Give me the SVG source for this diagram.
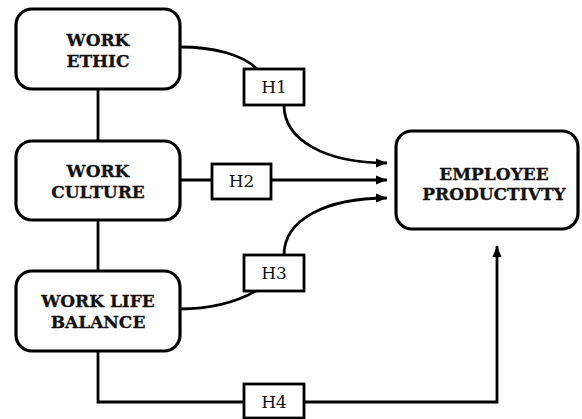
<svg xmlns="http://www.w3.org/2000/svg" width="582" height="419" viewBox="0 0 582 419">
<style>
.node{fill:#fff;stroke:#000;stroke-width:3.2}
.hbox{fill:#fff;stroke:#000;stroke-width:2.8}
.lbl{font-family:"DejaVu Serif",serif;font-weight:bold;font-size:17px;text-anchor:middle;fill:#111;stroke:#111;stroke-width:0.3}
.h{font-family:"DejaVu Serif",serif;font-size:17px;text-anchor:middle;fill:#111}
.c{fill:none;stroke:#000;stroke-width:2.8}
</style>
<defs>
<marker id="arr" markerUnits="userSpaceOnUse" markerWidth="12" markerHeight="10" refX="11" refY="5" orient="auto">
<path d="M0,0.5 L11,5 L0,9.5 Z" fill="#000"/>
</marker>
</defs>
<rect width="582" height="419" fill="#fff"/>
<g id="connectors">
<path class="c" d="M98,89 V141"/>
<path class="c" d="M98,220 V271"/>
<path class="c" d="M180,47 C215,47 243,55 257,69"/>
<path class="c" d="M284,105 C284,140 325,163 387,163" marker-end="url(#arr)"/>
<path class="c" d="M180,180 H387" marker-end="url(#arr)"/>
<path class="c" d="M180,309 C215,309 240,300 256,291"/>
<path class="c" d="M284,255 C284,220 325,198 387,198" marker-end="url(#arr)"/>
<path class="c" d="M98,351 V402 H497 V246" marker-end="url(#arr)"/>
</g>
<g id="work-ethic">
<rect class="node" x="16" y="9" width="164" height="80" rx="16"/>
<text class="lbl" x="98" y="46">WORK</text>
<text class="lbl" x="98" y="67">ETHIC</text>
</g>
<g id="work-culture">
<rect class="node" x="16" y="141" width="164" height="79" rx="16"/>
<text class="lbl" x="98" y="177">WORK</text>
<text class="lbl" x="98" y="198">CULTURE</text>
</g>
<g id="work-life-balance">
<rect class="node" x="16" y="271" width="164" height="80" rx="16"/>
<text class="lbl" x="98" y="307">WORK LIFE</text>
<text class="lbl" x="98" y="328">BALANCE</text>
</g>
<g id="employee-productivity">
<rect class="node" x="396" y="131" width="182" height="98" rx="16"/>
<text class="lbl" x="494" y="180">EMPLOYEE</text>
<text class="lbl" x="494" y="200">PRODUCTIVTY</text>
</g>
<g id="h1">
<rect class="hbox" x="244" y="69" width="60" height="36"/>
<text class="h" x="274" y="93">H1</text>
</g>
<g id="h2">
<rect class="hbox" x="212" y="164" width="59" height="35"/>
<text class="h" x="241.5" y="187">H2</text>
</g>
<g id="h3">
<rect class="hbox" x="244" y="255" width="60" height="36"/>
<text class="h" x="274" y="279">H3</text>
</g>
<g id="h4">
<rect class="hbox" x="244" y="384" width="60" height="34"/>
<text class="h" x="274" y="408">H4</text>
</g>
</svg>
